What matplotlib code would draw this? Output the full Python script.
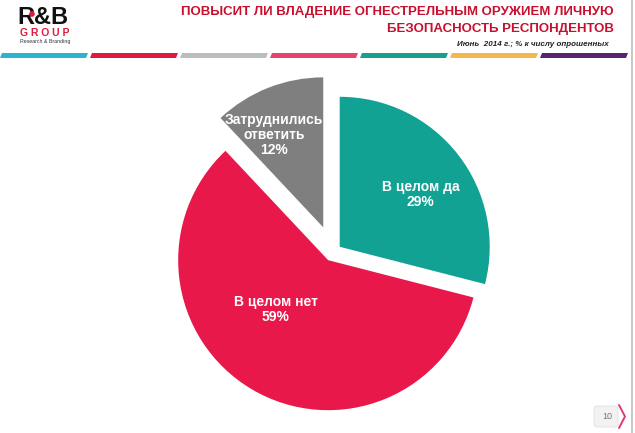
import numpy as np
import matplotlib.pyplot as plt
from matplotlib.patches import Polygon, FancyBboxPatch, Circle

# данные
categories = ['В целом да', 'В целом нет', 'Затруднились\nответить']
values = [29, 59, 12]
colors = ['#12A294', '#E8194A', '#7F7F7F']

title = 'ПОВЫСИТ ЛИ ВЛАДЕНИЕ ОГНЕСТРЕЛЬНЫМ ОРУЖИЕМ ЛИЧНУЮ\nБЕЗОПАСНОСТЬ РЕСПОНДЕНТОВ'
subtitle = 'Июнь  2014 г.; % к числу опрошенных'
stripe_colors = ['#2BB3CF', '#E01A3F', '#BDBDBD', '#E6436D', '#18A08F', '#F5B84B', '#55256F']

W, H = 635, 433
fig = plt.figure(figsize=(W / 100, H / 100), dpi=100)
ax = fig.add_axes([0, 0, 1, 1])

# пирог (координаты в пикселях, y вверх); explode тут в пикселях
R = 150
cx, cy = 333, H - 252
explode = [8.5, 9.5, 26.5]
wedges, _ = ax.pie(values, colors=colors, explode=explode, startangle=90,
                   counterclock=False, radius=R, center=(cx, cy), frame=True,
                   wedgeprops=dict(linewidth=0))

# подписи внутри секторов
lab_r = [0.64, 0.48, 0.70]
lab_da = [-5, -16, 6.5]
for w, cat, v, fr, da in zip(wedges, categories, values, lab_r, lab_da):
    ang = np.radians((w.theta1 + w.theta2) / 2 + da)
    x = w.center[0] + fr * R * np.cos(ang)
    y = w.center[1] + fr * R * np.sin(ang)
    ax.text(x, y, f'{cat}\n{v}%', ha='center', va='center', color='white',
            fontsize=10, fontweight='bold', linespacing=1.1,
            family='Liberation Sans')

# цветные полосы шапки
for i, c in enumerate(stripe_colors):
    x0 = i * 90
    x1 = x0 + 88
    ax.add_patch(Polygon([(x0, H - 58), (x1 - 2, H - 58), (x1, H - 53), (x0 + 2, H - 53)],
                         closed=True, facecolor=c, edgecolor='none'))

# заголовок
ax.text(614, H - 6, title, ha='right', va='top', color='#C8102E', fontsize=9.5,
        fontweight='bold', family='Liberation Sans', linespacing=1.55,
        multialignment='right')
ax.text(609, H - 44, subtitle, ha='right', va='center', color='#222222', fontsize=5.8,
        fontweight='bold', style='italic', family='Liberation Sans')

# логотип
ax.text(17, H - 17, 'R&B', ha='left', va='center', fontsize=17, fontweight='bold',
        color='#111111', family='Liberation Sans')
ax.add_patch(Circle((32, H - 14), 2.8, facecolor='#E0193F', edgecolor='none', zorder=5))
ax.text(45, H - 32.5, 'G R O U P', ha='center', va='center', fontsize=7.5,
        fontweight='bold', color='#E0193F', family='Liberation Sans')
ax.text(45, H - 42, 'Research & Branding', ha='center', va='center', fontsize=3.8,
        color='#333333', family='Liberation Sans')

# правая граница слайда
ax.plot([632, 632], [0, H], color='#BBBBBB', linewidth=1.2)

# номер страницы
ax.add_patch(FancyBboxPatch((595, 7), 22, 19, boxstyle='round,pad=1,rounding_size=3',
                            facecolor='#F2F2F2', edgecolor='#E0E0E0', linewidth=0.6))
ax.text(607, 16.5, '10', ha='center', va='center', fontsize=6.5, color='#777777',
        family='Liberation Sans')
ax.plot([619, 625, 619], [28, 16.5, 5], color='#E23D6A', linewidth=1.4,
        solid_capstyle='round')

ax.set_xlim(0, W)
ax.set_ylim(0, H)
ax.set_aspect('equal')
ax.axis('off')

fig.savefig('out.png', dpi=100)
